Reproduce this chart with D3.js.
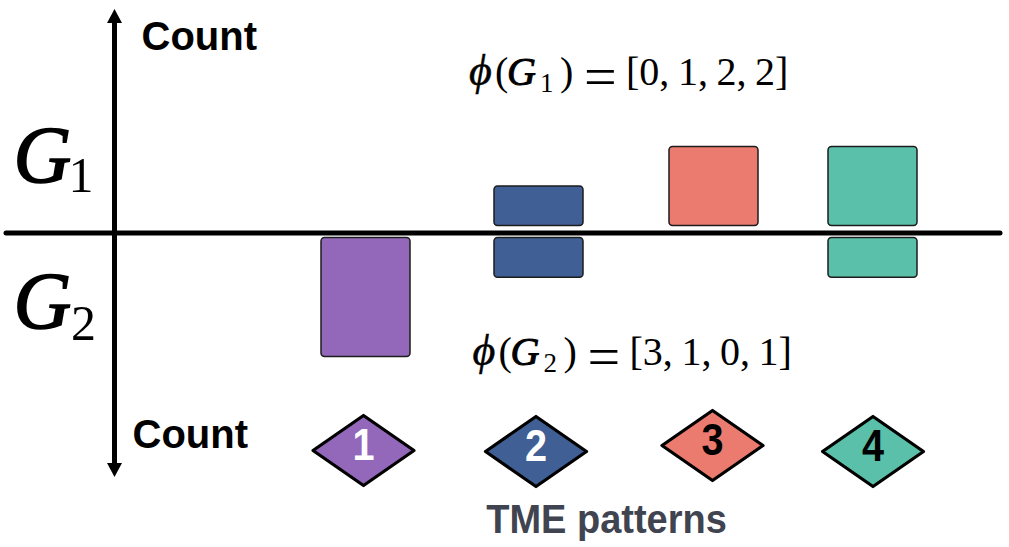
<!DOCTYPE html>
<html><head><meta charset="utf-8">
<script src="https://d3js.org/d3.v7.min.js"></script>
<style>html,body{margin:0;padding:0;background:#fff}svg{display:block}</style>
</head><body><svg id="c" width="1009" height="547"></svg>
<script>
const patterns = ["1","2","3","4"];
const g1Counts = [0,1,2,2];
const g2Counts = [3,1,0,1];
const patternColors = ["#9368ba","#3f5f95","#ec7b6f","#5bc0a9"];
const patternTextColors = ["#ffffff","#ffffff","#000000","#000000"];
const groupLabels = ["1","2"];
const countLabel = "Count";
const xLabel = "TME patterns";

const svg=d3.select("#c");
const x=d3.scaleOrdinal().domain(patterns).range([365.5,538.5,713.5,872.5]);
const markerX=d3.scaleOrdinal().domain(patterns).range([363.5,536,712.5,873]);
const markerY=d3.scaleOrdinal().domain(patterns).range([450.5,451.5,445.5,451.5]);
const color=d3.scaleOrdinal().domain(patterns).range(patternColors);
const textColor=d3.scaleOrdinal().domain(patterns).range(patternTextColors);
const yUp=d3.scaleLinear().domain([0,2]).range([225.5,146.5]);
const yDown=d3.scaleLinear().domain([0,3]).range([237.5,356.5]);
const barW=89;

// axes
svg.append("line").attr("x1",6).attr("x2",1000).attr("y1",233).attr("y2",233)
  .attr("stroke","#000").attr("stroke-width",5).attr("stroke-linecap","round");
svg.append("line").attr("x1",114.5).attr("x2",114.5).attr("y1",20).attr("y2",466)
  .attr("stroke","#000").attr("stroke-width",5);
svg.append("path").attr("d","M114.5,9L122,23H107Z").attr("fill","#000");
svg.append("path").attr("d","M114.5,477L122,463H107Z").attr("fill","#000");

// bars
const rects=(data,fn)=>svg.append("g").selectAll("rect").data(data).join("rect")
  .attr("x",d=>x(d.p)-barW/2).attr("width",barW).attr("rx",3.5)
  .attr("fill",d=>color(d.p)).attr("stroke","#1c1c1c").attr("stroke-width",1.5).call(fn);
rects(patterns.map((p,i)=>({p,v:g1Counts[i]})).filter(d=>d.v>0),
  s=>s.attr("y",d=>yUp(d.v)).attr("height",d=>yUp(0)-yUp(d.v)));
rects(patterns.map((p,i)=>({p,v:g2Counts[i]})).filter(d=>d.v>0),
  s=>s.attr("y",yDown(0)).attr("height",d=>yDown(d.v)-yDown(0)));

// group labels
const serif="'Liberation Serif',serif", sans="'Liberation Sans',sans-serif";
[[13.5,182,192],[13.5,328,340]].forEach(([tx,by,sy],i)=>{
  svg.append("text").attr("x",tx).attr("y",by).attr("font-family",serif).attr("font-size",80)
    .attr("font-style","italic").attr("stroke","#000").attr("stroke-width",1.6).text("G");
  svg.append("text").attr("x",i?71:68.5).attr("y",sy).attr("font-family",serif).attr("font-size",50).text(groupLabels[i]);
});
svg.append("text").attr("x",141.5).attr("y",50).attr("font-family",sans).attr("font-weight","bold").attr("font-size",40).text(countLabel);
svg.append("text").attr("x",132.5).attr("y",448).attr("font-family",sans).attr("font-weight","bold").attr("font-size",40).text(countLabel);

// formulas
function formula(tx,by,idx,vals){
  const g=svg.append("g").attr("font-family",serif).attr("font-size",40).attr("fill","#000");
  const put=(dx,dy,s)=>g.append("text").attr("x",tx+dx).attr("y",by+dy).text(s);
  put(0,0,"\u03D5").attr("font-style","italic").attr("font-size",44).attr("stroke","#000").attr("stroke-width",0.5);
  put(26,0,"(");
  put(38,0,"G").attr("font-style","italic").attr("stroke","#000").attr("stroke-width",1);
  put(71,7,idx).attr("font-size",27);
  put(91,0,")");
  put(115,11,"=").attr("font-size",58);
  put(157,0,"["+vals.join(", ")+"]").attr("word-spacing",-1.4);
}
formula(469,85,groupLabels[0],g1Counts);
formula(472.5,365,groupLabels[1],g2Counts);

// diamonds
const hw=50.5,hh=35;
const marks=svg.append("g").selectAll("g").data(patterns).join("g")
  .attr("transform",d=>`translate(${markerX(d)},${markerY(d)})`);
marks.append("path").attr("d",`M${-hw},0L0,${-hh}L${hw},0L0,${hh}Z`)
  .attr("fill",d=>color(d)).attr("stroke","#000").attr("stroke-width",3.2).attr("stroke-linejoin","round");
marks.append("text").attr("text-anchor","middle").attr("transform","translate(0,9.5) scale(0.88,1)").attr("font-family",sans).attr("font-weight","bold")
  .attr("font-size",45).attr("fill",d=>textColor(d)).text(d=>d);

svg.append("text").attr("transform","translate(606.5,533) scale(0.95,1)").attr("text-anchor","middle").attr("font-family",sans)
  .attr("font-weight","bold").attr("font-size",40).attr("fill","#3f4450").text(xLabel);
</script></body></html>
